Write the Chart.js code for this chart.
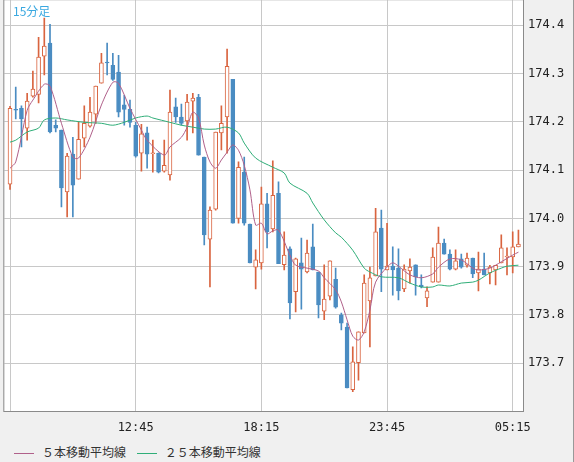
<!DOCTYPE html>
<html><head><meta charset="utf-8">
<script src="https://cdn.jsdelivr.net/npm/chart.js@4"></script>
<style>
  body { margin: 0; background: #f0f0f0; }
  #wrap { position: relative; width: 574px; height: 462px; background: #f0f0f0; border-right: 1px solid #999; box-sizing: border-box; overflow: hidden; }
  #c { position: absolute; left: 0; top: -12px; }
  #title { position: absolute; left: 13px; top: 2px; font: 12px "Noto Sans CJK JP", sans-serif; color: #3aa8e0; }
  #legend { position: absolute; left: 14px; top: 443px; font: 12px "Noto Sans CJK JP", sans-serif; color: #333; }
  #legend span.ln { display: inline-block; width: 20px; height: 1px; vertical-align: middle; margin-right: 8px; }
</style></head>
<body>
<div id="wrap">
  <canvas id="c" width="574" height="452"></canvas>
  <div id="title">15分足</div>
  <div id="legend"><span class="ln" style="background:#b0608a"></span>５本移動平均線&nbsp;&nbsp;&nbsp;&nbsp;<span class="ln" style="background:#2fae78"></span>２５本移動平均線</div>
</div>
<script>
// candles: 07:15 .. 05:30, 15 min each
const opens  = [174.071,174.226,174.228,174.187,174.253,174.257,174.336,174.363,174.193,174.183,174.055,174.133,174.081,174.166,174.191,174.216,174.280,174.324,174.317,174.303,174.235,174.226,174.193,174.135,174.177,174.134,174.135,174.098,174.090,174.231,174.210,174.202,174.243,174.251,174.127,173.957,174.019,174.177,174.210,174.288,174.000,174.096,173.988,173.899,173.908,174.030,173.978,174.052,173.904,173.937,173.848,173.908,173.889,173.941,173.889,173.808,173.839,173.874,173.800,173.775,173.645,173.701,173.763,173.829,173.881,173.980,173.893,173.901,173.897,173.854,173.891,173.904,173.862,173.835,173.868,173.868,173.949,173.926,173.895,173.916,173.903,173.918,173.887,173.895,173.887,173.893,173.908,173.920,173.920,173.941];
const highs  = [174.232,174.272,174.233,174.259,174.305,174.375,174.415,174.402,174.204,174.183,174.135,174.168,174.199,174.233,174.251,174.274,174.342,174.363,174.342,174.338,174.255,174.245,174.199,174.195,174.189,174.162,174.136,174.162,174.266,174.249,174.237,174.257,174.259,174.257,174.127,174.024,174.179,174.233,174.351,174.288,174.117,174.127,173.988,173.935,174.065,174.052,174.119,174.076,173.972,173.941,173.918,173.959,173.955,173.988,173.889,173.904,173.912,173.897,173.804,173.783,173.734,173.765,173.883,173.899,174.021,174.017,173.990,173.941,173.937,173.904,173.916,173.904,173.883,173.858,173.939,173.982,173.957,173.935,173.935,173.926,173.928,173.918,173.930,173.928,173.903,173.903,173.966,173.939,173.972,173.976];
const lows   = [174.060,174.206,174.148,174.162,174.251,174.239,174.297,174.177,174.179,174.024,174.003,174.003,174.081,174.148,174.189,174.197,174.280,174.297,174.286,174.210,174.193,174.189,174.127,174.098,174.104,174.096,174.094,174.096,174.079,174.199,174.193,174.162,174.177,174.131,173.945,173.858,174.017,174.142,174.135,173.990,173.990,173.986,173.908,173.854,173.895,173.939,173.972,173.906,173.893,173.792,173.806,173.812,173.887,173.893,173.794,173.790,173.831,173.814,173.769,173.649,173.641,173.665,173.763,173.734,173.881,173.848,173.893,173.841,173.831,173.848,173.866,173.841,173.856,173.817,173.868,173.868,173.926,173.893,173.893,173.897,173.899,173.877,173.850,173.883,173.864,173.862,173.908,173.883,173.887,173.941];
const closes = [174.228,174.224,174.206,174.243,174.268,174.334,174.357,174.179,174.187,174.063,174.129,174.069,174.164,174.197,174.220,174.274,174.322,174.322,174.288,174.220,174.226,174.199,174.129,174.175,174.133,174.136,174.096,174.110,174.220,174.210,174.197,174.241,174.249,174.131,173.966,174.017,174.179,174.197,174.315,173.990,174.106,173.990,173.908,173.914,174.030,173.972,174.048,173.906,173.924,173.825,173.916,173.895,173.928,173.893,173.821,173.833,173.912,173.816,173.783,173.649,173.703,173.765,173.866,173.877,173.972,173.895,173.901,173.893,173.850,173.895,173.899,173.879,173.858,173.850,173.920,173.949,173.926,173.895,173.912,173.899,173.918,173.885,173.895,173.883,173.899,173.903,173.939,173.922,173.941,173.947];

// moving averages: [candle index, price]
const ma5 = [[0,174.104],[1,174.117],[3,174.224],[4,174.245],[6,174.278],[7,174.274],[9,174.197],[11,174.127],[12,174.125],[14,174.168],[16,174.235],[18,174.282],[19,174.280],[21,174.228],[23,174.183],[24,174.162],[27,174.131],[28,174.148],[30,174.168],[31,174.189],[32,174.220],[33,174.208],[34,174.152],[35,174.117],[36,174.104],[37,174.121],[38,174.137],[39,174.152],[40,174.141],[41,174.110],[42,174.059],[43,173.986],[44,173.990],[45,173.968],[46,173.974],[47,173.976],[49,173.924],[50,173.903],[52,173.897],[54,173.891],[55,173.877],[57,173.852],[58,173.827],[59,173.790],[60,173.756],[61,173.748],[62,173.765],[63,173.810],[64,173.868],[66,173.899],[67,173.908],[68,173.901],[70,173.883],[72,173.877],[74,173.885],[75,173.899],[77,173.916],[79,173.914],[81,173.897],[82,173.893],[84,173.897],[86,173.910],[88,173.924],[89,173.930]];
const ma25 = [[0,174.158],[1,174.162],[3,174.179],[5,174.187],[6,174.204],[8,174.208],[10,174.204],[13,174.199],[16,174.197],[18,174.193],[20,174.199],[22,174.208],[24,174.212],[25,174.208],[28,174.199],[30,174.193],[32,174.189],[34,174.185],[36,174.185],[38,174.189],[40,174.177],[41,174.156],[43,174.125],[46,174.106],[48,174.094],[49,174.073],[52,174.052],[53,174.032],[55,173.997],[57,173.970],[58,173.961],[60,173.934],[62,173.897],[63,173.889],[65,173.879],[68,173.877],[70,173.866],[72,173.858],[74,173.858],[75,173.862],[77,173.860],[79,173.866],[81,173.868],[82,173.872],[84,173.887],[86,173.897],[87,173.901],[89,173.903]];

const timeTicks = [0, 22, 44, 66, 88];
const timeLabels = ['', '12:45', '18:15', '23:45', '05:15'];
const priceTicks = [173.7, 173.8, 173.9, 174.0, 174.1, 174.2, 174.3, 174.4];

const UP = '#d9643f', DOWN = '#4a8cc2';
const isUp = closes.map((c, i) => c >= opens[i]);

const wicks = closes.map((c, i) => ({ x: i, y: [lows[i], highs[i]] }));
const bodies = closes.map((c, i) => {
  let a = Math.min(opens[i], c), b = Math.max(opens[i], c);
  if (b - a < 0.002) b = a + 0.002;
  return { x: i, y: [a, b] };
});

const bgPlugin = {
  id: 'bg',
  beforeDraw(chart) {
    const { ctx, chartArea: a } = chart;
    ctx.save();
    ctx.fillStyle = '#ffffff';
    ctx.fillRect(a.left, a.top, a.right - a.left, a.bottom - a.top);
    ctx.restore();
  },
  afterDraw(chart) {
    const { ctx, chartArea: a } = chart;
    ctx.save();
    ctx.strokeStyle = '#8a8a8a'; ctx.lineWidth = 1;
    ctx.strokeRect(a.left - 0.5, a.top - 0.5, a.right - a.left + 1, a.bottom - a.top + 1);
    ctx.restore();
  }
};

new Chart(document.getElementById('c'), {
  type: 'bar',
  data: {
    datasets: [
      { type: 'line', label: '5', data: ma5.map(p => ({ x: p[0], y: p[1] })), borderColor: '#b0608a', borderWidth: 1, pointRadius: 0, tension: 0.3, order: 0 },
      { type: 'line', label: '25', data: ma25.map(p => ({ x: p[0], y: p[1] })), borderColor: '#2fae78', borderWidth: 1, pointRadius: 0, tension: 0.3, order: 0 },
      { label: 'wick', data: wicks, backgroundColor: isUp.map(u => u ? UP : DOWN), barThickness: 1, grouped: false, order: 2 },
      { label: 'body', data: bodies, backgroundColor: isUp.map(u => u ? '#ffffff' : DOWN),
        borderColor: isUp.map(u => u ? UP : DOWN), borderWidth: 1, borderSkipped: false,
        barThickness: 4, grouped: false, order: 1 }
    ]
  },
  plugins: [bgPlugin],
  options: {
    responsive: false, animation: false,
    layout: { padding: { left: 2, top: 0, right: 0, bottom: 0 } },
    plugins: { legend: { display: false }, tooltip: { enabled: false } },
    scales: {
      x: {
        type: 'linear', min: -1, max: 89.8, offset: false,
        afterBuildTicks: (s) => { s.ticks = timeTicks.map(v => ({ value: v })); },
        afterFit: (s) => { s.height = 29; },
        grid: { color: '#c8c8c8', drawTicks: false, offset: false },
        border: { display: false },
        ticks: { autoSkip: false, maxRotation: 0, padding: 10, color: '#222',
          font: { family: 'DejaVu Sans Mono', size: 12 },
          callback: (v) => timeLabels[timeTicks.indexOf(v)] }
      },
      y: {
        position: 'right', min: 173.601, max: 174.452,
        afterBuildTicks: (s) => { s.ticks = priceTicks.map(v => ({ value: v })); },
        afterFit: (s) => { s.width = 51; },
        grid: { color: '#c8c8c8', drawTicks: false },
        border: { display: false },
        ticks: { padding: 5, color: '#222', font: { family: 'DejaVu Sans Mono', size: 12 },
          callback: (v) => v.toFixed(1) }
      }
    }
  }
});
</script>
</body></html>
